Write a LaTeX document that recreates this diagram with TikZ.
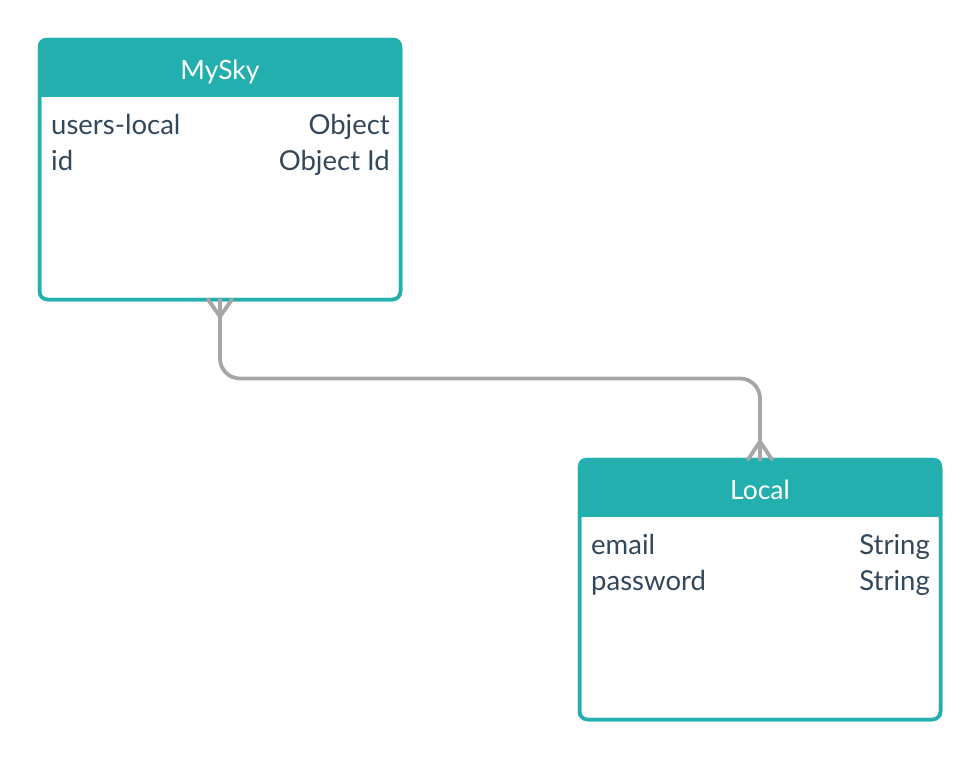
\documentclass[tikz,border=0pt]{standalone}
\usepackage{fontspec}
\setmainfont{Lato}
\usetikzlibrary{calc}
\definecolor{tealc}{HTML}{23AFAD}
\definecolor{txt}{HTML}{33475B}
\definecolor{conn}{HTML}{A6A6A6}
\tikzset{
  entbox/.style={draw=tealc, line width=3.5pt, rounded corners=8pt, minimum width=361pt, minimum height=260pt, inner sep=0pt, outer sep=0pt},
  title/.style={text=white, font=\fontsize{26.5}{30}\selectfont, anchor=base},
  fieldl/.style={text=txt, font=\fontsize{27.5}{32}\selectfont, anchor=base west, inner sep=0pt},
  fieldr/.style={text=txt, font=\fontsize{27.5}{32}\selectfont, anchor=base east, inner sep=0pt},
  connline/.style={draw=conn, line width=3.8pt, line cap=round, line join=round},
}
\begin{document}
\begin{tikzpicture}[x=1pt,y=-1pt]
\useasboundingbox (0,0) rectangle (980,761);
% MySky
\node[entbox] (mysky) at (220,169.5) {};
\begin{scope}
\clip[rounded corners=8pt] (38,38) rectangle (402,301);
\fill[tealc] (38,38) rectangle (402,97);
\end{scope}
\node[entbox] at (220,169.5) {};
\node[title] (myskyt) at (220,79) {MySky};
\node[fieldl] (m1) at (51,134) {users-local};
\node[fieldr] (m1t) at (390,134) {Object};
\node[fieldl] (m2) at (51,170) {id};
\node[fieldr] (m2t) at (390,170) {Object Id};
% Local
\node[entbox] (local) at (760,589.5) {};
\begin{scope}
\clip[rounded corners=8pt] (578,458) rectangle (942,721);
\fill[tealc] (578,458) rectangle (942,517);
\end{scope}
\node[entbox] at (760,589.5) {};
\node[title] (localt) at (760,499) {Local};
\node[fieldl] (l1) at (591,554) {email};
\node[fieldr] (l1t) at (930,554) {String};
\node[fieldl] (l2) at (591,590) {password};
\node[fieldr] (l2t) at (930,590) {String};
% connector
\draw[connline, rounded corners=20pt] (mysky.south) -- ($(mysky.south)+(0,79)$) -| (local.north);
\coordinate (fa) at ($(mysky.south)+(0,17)$);
\draw[connline] ($(mysky.south)+(-12,0)$) -- (fa) -- ($(mysky.south)+(12,0)$);
\coordinate (fb) at ($(local.north)+(0,-18)$);
\draw[connline] ($(local.north)+(-12,0)$) -- (fb) -- ($(local.north)+(12,0)$);
\end{tikzpicture}
\end{document}
